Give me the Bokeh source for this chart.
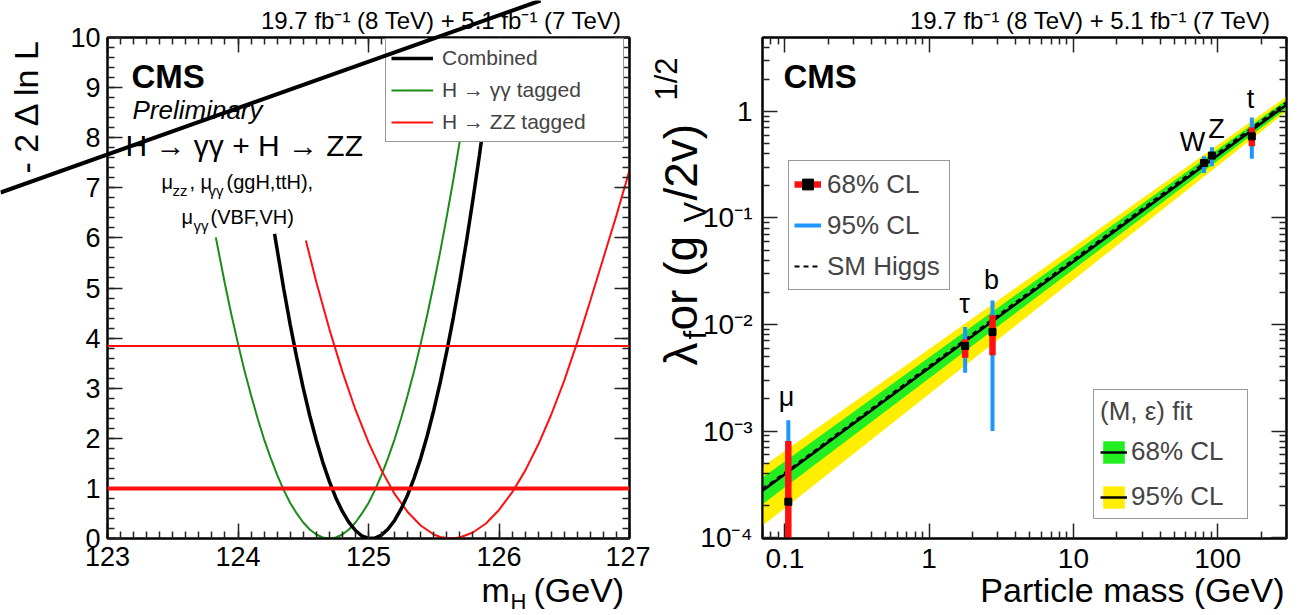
import math
from bokeh.plotting import figure
from bokeh.models import (Range1d, LinearAxis, LogAxis, SingleIntervalTicker, FixedTicker,
                          Label, Legend, LegendItem, CustomJSTickFormatter, Span, GlobalInlineStyleSheet)
from bokeh.layouts import row, column
from bokeh.embed import file_html
from bokeh.resources import INLINE

FONT = "Liberation Sans"

# ---------------- left panel data: -2 Delta ln L vs m_H ----------------
mh_comb = [124.28, 124.35, 124.40, 124.45, 124.50, 124.55, 124.60, 124.65, 124.70, 124.75,
           124.80, 124.85, 124.90, 124.95, 125.00, 125.05, 125.10, 125.15, 125.20, 125.25,
           125.30, 125.35, 125.40, 125.45, 125.50, 125.55, 125.60, 125.65, 125.70, 125.75,
           125.80, 125.85, 125.90, 125.95, 126.00]
dnll_comb = [6.08, 4.99, 4.27, 3.61, 3.00, 2.45, 1.96, 1.52, 1.14, 0.81,
             0.54, 0.32, 0.16, 0.05, 0.00, 0.01, 0.07, 0.19, 0.36, 0.59,
             0.87, 1.21, 1.60, 2.05, 2.56, 3.12, 3.74, 4.41, 5.14, 5.92,
             6.76, 7.65, 8.60, 9.61, 10.67]

mh_gg = [123.83, 123.90, 123.95, 124.00, 124.05, 124.10, 124.15, 124.20, 124.25, 124.30,
         124.35, 124.40, 124.45, 124.50, 124.55, 124.60, 124.65, 124.70, 124.75, 124.80,
         124.85, 124.90, 124.95, 125.00, 125.05, 125.10, 125.15, 125.20, 125.25, 125.30,
         125.35, 125.40, 125.45, 125.50, 125.55, 125.60, 125.65, 125.70, 125.75, 125.80, 125.85]
dnll_gg = [6.01, 5.08, 4.46, 3.89, 3.35, 2.86, 2.40, 1.98, 1.61, 1.27,
           0.97, 0.71, 0.50, 0.32, 0.18, 0.08, 0.02, 0.00, 0.02, 0.08,
           0.18, 0.32, 0.50, 0.71, 0.97, 1.27, 1.61, 1.98, 2.40, 2.86,
           3.35, 3.89, 4.46, 5.08, 5.73, 6.43, 7.16, 7.94, 8.75, 9.60, 10.49]

mh_zz = [124.52, 124.60, 124.70, 124.80, 124.90, 125.00, 125.10, 125.20, 125.30, 125.40,
         125.50, 125.55, 125.63, 125.70, 125.80, 125.90, 126.00, 126.10, 126.20, 126.30,
         126.40, 126.50, 126.60, 126.70, 126.80, 126.90, 127.00]
dnll_zz = [5.95, 5.12, 4.18, 3.33, 2.57, 1.92, 1.36, 0.89, 0.53, 0.26,
           0.08, 0.03, 0.00, 0.02, 0.12, 0.30, 0.57, 0.92, 1.35, 1.87,
           2.47, 3.15, 3.92, 4.75, 5.60, 6.45, 7.35]

cl_levels = [1.0, 3.84]
left_x_range = [123, 127]
left_y_range = [0, 10]
left_legend_labels = ["Combined", "H \u2192 \u03b3\u03b3 tagged", "H \u2192 ZZ tagged"]

# ---------------- right panel data: couplings vs particle mass ----------------
particles = ["\u03bc", "\u03c4", "b", "W", "Z", "t"]
pmass = [0.1057, 1.777, 2.75, 80.4, 91.19, 172.5]
pcenter = [2.17e-4, 6.28e-3, 8.49e-3, 0.328, 0.385, 0.583]
p68_lo = [5.0e-5, 4.87e-3, 5.13e-3, 0.318, 0.372, 0.470]
p68_hi = [8.07e-4, 7.25e-3, 1.22e-2, 0.338, 0.398, 0.708]
p95_lo = [5.0e-5, 3.53e-3, 1.00e-3, 0.264, 0.305, 0.360]
p95_hi = [1.26e-3, 9.46e-3, 1.68e-2, 0.379, 0.460, 0.879]

band_mass = [0.07, 300.0]
fit_val = [2.75e-4, 1.155]
green_lo = [2.06e-4, 1.06]
green_hi = [3.66e-4, 1.287]
yellow_lo = [1.29e-4, 1.00]
yellow_hi = [4.61e-4, 1.38]
sm_val = [2.85e-4, 1.22]

right_x_range = [0.07, 300.0]
right_y_range = [0.98e-4, 4.94]
x_tick_vals = [0.1, 1, 10, 100]
x_tick_labels = ["0.1", "1", "10", "100"]
y_tick_vals = [1e-4, 1e-3, 1e-2, 1e-1, 1]
y_tick_labels = ["10\u207b\u2074", "10\u207b\u00b3", "10\u207b\u00b2", "10\u207b\u00b9", "1"]

lumi_text = "19.7 fb\u207b\u00b9 (8 TeV) +  5.1 fb\u207b\u00b9 (7 TeV)"

# ---------------- helpers ----------------
def style_axis(ax, labels=True, size=27, standoff=7):
    ax.major_tick_in = 15
    ax.major_tick_out = 0
    ax.minor_tick_in = 7
    ax.minor_tick_out = 0
    ax.major_tick_line_color = "#222222"
    ax.minor_tick_line_color = "#222222"
    ax.major_tick_line_width = 1.5
    ax.minor_tick_line_width = 1.5
    ax.axis_line_color = "black"
    ax.axis_line_width = 2
    if labels:
        ax.major_label_text_font = FONT
        ax.major_label_text_font_size = f"{size}px"
        ax.major_label_text_color = "black"
        ax.major_label_standoff = standoff
    else:
        ax.formatter = CustomJSTickFormatter(code="return '';")
        ax.major_label_text_font_size = "0px"


def base_fig(**kw):
    f = figure(output_backend="svg", toolbar_location=None, **kw)
    f.grid.visible = False
    f.outline_line_color = "black"
    f.outline_line_width = 2
    f.background_fill_color = "white"
    f.border_fill_color = "white"
    return f


# ================= LEFT PANEL =================
left = base_fig(width=650, height=615, x_range=Range1d(*left_x_range), y_range=Range1d(*left_y_range),
                min_border_left=107, min_border_right=21, min_border_top=37, min_border_bottom=77)
left.xaxis.ticker = SingleIntervalTicker(interval=1, num_minor_ticks=10)
left.yaxis.ticker = SingleIntervalTicker(interval=1, num_minor_ticks=5)
style_axis(left.xaxis[0], standoff=8)
style_axis(left.yaxis[0], standoff=7)
ax_top = LinearAxis(ticker=SingleIntervalTicker(interval=1, num_minor_ticks=10))
style_axis(ax_top, labels=False)
left.add_layout(ax_top, "above")
ax_right = LinearAxis(ticker=SingleIntervalTicker(interval=1, num_minor_ticks=5))
style_axis(ax_right, labels=False)
left.add_layout(ax_right, "right")

r_gg = left.line(mh_gg, dnll_gg, line_color="#1a8c1a", line_width=2)
r_zz = left.line(mh_zz, dnll_zz, line_color="#ff1010", line_width=2)
r_comb = left.line(mh_comb, dnll_comb, line_color="black", line_width=3.5)
for lev, w in zip(cl_levels, [4, 2]):
    left.add_layout(Span(location=lev, dimension="width", line_color="#ff1010", line_width=w))

leg_l = Legend(items=[LegendItem(label=left_legend_labels[0], renderers=[r_comb]),
                      LegendItem(label=left_legend_labels[1], renderers=[r_gg]),
                      LegendItem(label=left_legend_labels[2], renderers=[r_zz])],
               location=(278, 396), border_line_color="#333333", border_line_width=1.5,
               background_fill_color="white", background_fill_alpha=1.0,
               label_text_font=FONT, label_text_font_size="21px",
               glyph_width=42, glyph_height=28, label_height=28, label_width=176,
               label_standoff=9, padding=5, spacing=4, margin=0)
left.add_layout(leg_l)

# ================= RIGHT PANEL =================
right = base_fig(width=650, height=615, x_axis_type="log", y_axis_type="log",
                 x_range=Range1d(*right_x_range), y_range=Range1d(*right_y_range),
                 min_border_left=112, min_border_right=14, min_border_top=36, min_border_bottom=77)

x_minor = [m * 10.0 ** e for e in range(-2, 3) for m in range(2, 10)]
y_minor = [m * 10.0 ** e for e in range(-5, 1) for m in range(2, 10)]
fmt_code = """
let best = 0, bd = 1e9;
for (let i = 0; i < vals.length; i++) {
  const d = Math.abs(Math.log10(tick) - Math.log10(vals[i]));
  if (d < bd) { bd = d; best = i; }
}
return labs[best];
"""
right.xaxis.ticker = FixedTicker(ticks=x_tick_vals, minor_ticks=x_minor)
right.yaxis.ticker = FixedTicker(ticks=y_tick_vals, minor_ticks=y_minor)
right.xaxis.formatter = CustomJSTickFormatter(args=dict(vals=x_tick_vals, labs=x_tick_labels), code=fmt_code)
right.yaxis.formatter = CustomJSTickFormatter(args=dict(vals=y_tick_vals, labs=y_tick_labels), code=fmt_code)
style_axis(right.xaxis[0], size=28, standoff=10)
style_axis(right.yaxis[0], size=28, standoff=10)
rax_top = LogAxis(ticker=FixedTicker(ticks=x_tick_vals, minor_ticks=x_minor))
style_axis(rax_top, labels=False)
right.add_layout(rax_top, "above")
rax_right = LogAxis(ticker=FixedTicker(ticks=y_tick_vals, minor_ticks=y_minor))
style_axis(rax_right, labels=False)
right.add_layout(rax_right, "right")

r_yel = right.varea(x=band_mass, y1=yellow_lo, y2=yellow_hi, fill_color="#ffee00")
r_grn = right.varea(x=band_mass, y1=green_lo, y2=green_hi, fill_color="#22ee22")
r_fit = right.line(band_mass, fit_val, line_color="black", line_width=2.5)
r_sm = right.line(band_mass, sm_val, line_color="black", line_width=2, line_dash="5 4")
r_95 = right.segment(x0=pmass, y0=p95_lo, x1=pmass, y1=p95_hi, line_color="#1e96ff", line_width=4)
r_68 = right.segment(x0=pmass, y0=p68_lo, x1=pmass, y1=p68_hi, line_color="#ff1010", line_width=6.5)
r_pt = right.scatter(pmass, pcenter, marker="square", size=7, fill_color="black", line_color="black")

leg_r1 = Legend(items=[LegendItem(label="68% CL", renderers=[r_68, r_pt]),
                       LegendItem(label="95% CL", renderers=[r_95]),
                       LegendItem(label="SM Higgs", renderers=[r_sm])],
                location=(26, 248), border_line_color="#333333", border_line_width=1.5,
                background_fill_color="white", background_fill_alpha=1.0,
                label_text_font=FONT, label_text_font_size="26px",
                glyph_width=27, glyph_height=36, label_height=36, label_width=117,
                label_standoff=6, padding=5, spacing=5, margin=0)
right.add_layout(leg_r1)

leg_r2 = Legend(items=[LegendItem(label="68% CL", renderers=[r_grn, r_fit]),
                       LegendItem(label="95% CL", renderers=[r_yel, r_fit])],
                location=(331, 19), border_line_color="#333333", border_line_width=1.5,
                background_fill_color="white", background_fill_alpha=1.0,
                title="(M, \u03b5) fit", title_text_font=FONT, title_text_font_size="26px",
                title_text_font_style="normal", title_standoff=9,
                label_text_font=FONT, label_text_font_size="26px",
                glyph_width=27, glyph_height=28, label_height=28, label_width=110,
                label_standoff=4, padding=6, spacing=14, margin=0)
right.add_layout(leg_r2)

# ================= TRANSPARENT OVERLAY (page coordinates) for texts outside frames =================
# kept out of the panels' row so that its frame is not aligned with theirs
overlay = figure(width=1300, height=615, x_range=Range1d(0, 1300), y_range=Range1d(615, 0),
                 output_backend="svg", toolbar_location=None, min_border=0,
                 x_axis_location=None, y_axis_location=None,
                 styles={"position": "absolute", "top": "0px", "left": "0px",
                         "z-index": "10", "pointer-events": "none"})
overlay.grid.visible = False
overlay.outline_line_color = None
overlay.background_fill_color = None
overlay.border_fill_color = None
overlay.background_fill_alpha = 0
overlay.border_fill_alpha = 0

VERT = math.pi / 2
BASE_SHIFT = 0.33   # the rendered anchor sits about a third of the font size above the baseline


def put(X, Y, text, size, style="normal", align="left", angle=0.0, color="black"):
    if angle == 0.0:
        Y = Y - BASE_SHIFT * size
    else:
        X = X - BASE_SHIFT * size
    overlay.add_layout(Label(x=X, y=Y, text=text, text_font=FONT, text_font_size=f"{size}px",
                             text_font_style=style, text_align=align, text_baseline="alphabetic",
                             angle=angle, text_color=color))


# diagonal stroke across the upper-left corner of the page
slash_x = [0, 540]
slash_y = [192, 0]
overlay.line(slash_x, slash_y, line_color="black", line_width=4)

# left panel texts (page x, baseline y)
put(628, 28, lumi_text, 24, align="right")
put(131, 87, "CMS", 33, style="bold")
put(132, 118, "Preliminary", 26, style="italic")
put(125, 155, "H \u2192 \u03b3\u03b3 + H \u2192 ZZ", 30)
put(161, 188, "\u03bc", 20)
put(172, 195, "zz", 15)
put(189, 188, ", \u03bc", 20)
put(208, 195, "\u03b3\u03b3", 15)
put(226, 188, "(ggH,ttH),", 20)
put(181, 223, "\u03bc", 20)
put(193, 230, "\u03b3\u03b3", 15)
put(210, 223, "(VBF,VH)", 20)
put(481, 601, "m", 34)
put(510, 608, "H", 22)
put(533, 601, "(GeV)", 34)
put(37, 173, "- 2 \u0394 ln L", 34, angle=VERT)

# right panel texts
plabel_x = [786, 964, 991, 1192, 1216, 1250]
plabel_y = [405, 312, 288, 150, 137, 107]
for name, X, Y in zip(particles, plabel_x, plabel_y):
    put(X, Y, name, 27, align="center")
put(1277, 28, lumi_text, 24, align="right")
put(783, 87, "CMS", 33, style="bold")
put(1284, 601, "Particle mass (GeV)", 34, align="right")
put(696, 365, "\u03bb", 46, angle=VERT)
put(705, 339, "f", 31, angle=VERT)
put(696, 330, " or (g", 46, angle=VERT)
put(705, 222, "V", 31, angle=VERT)
put(696, 200, "/2v)", 46, angle=VERT)
put(676, 100, "1/2", 31, angle=VERT)

no_scroll = GlobalInlineStyleSheet(css="html, body { margin: 0; overflow: hidden; }")
page = column(row(left, right), overlay, stylesheets=[no_scroll])
open("out.html", "w").write(file_html(page, INLINE))
